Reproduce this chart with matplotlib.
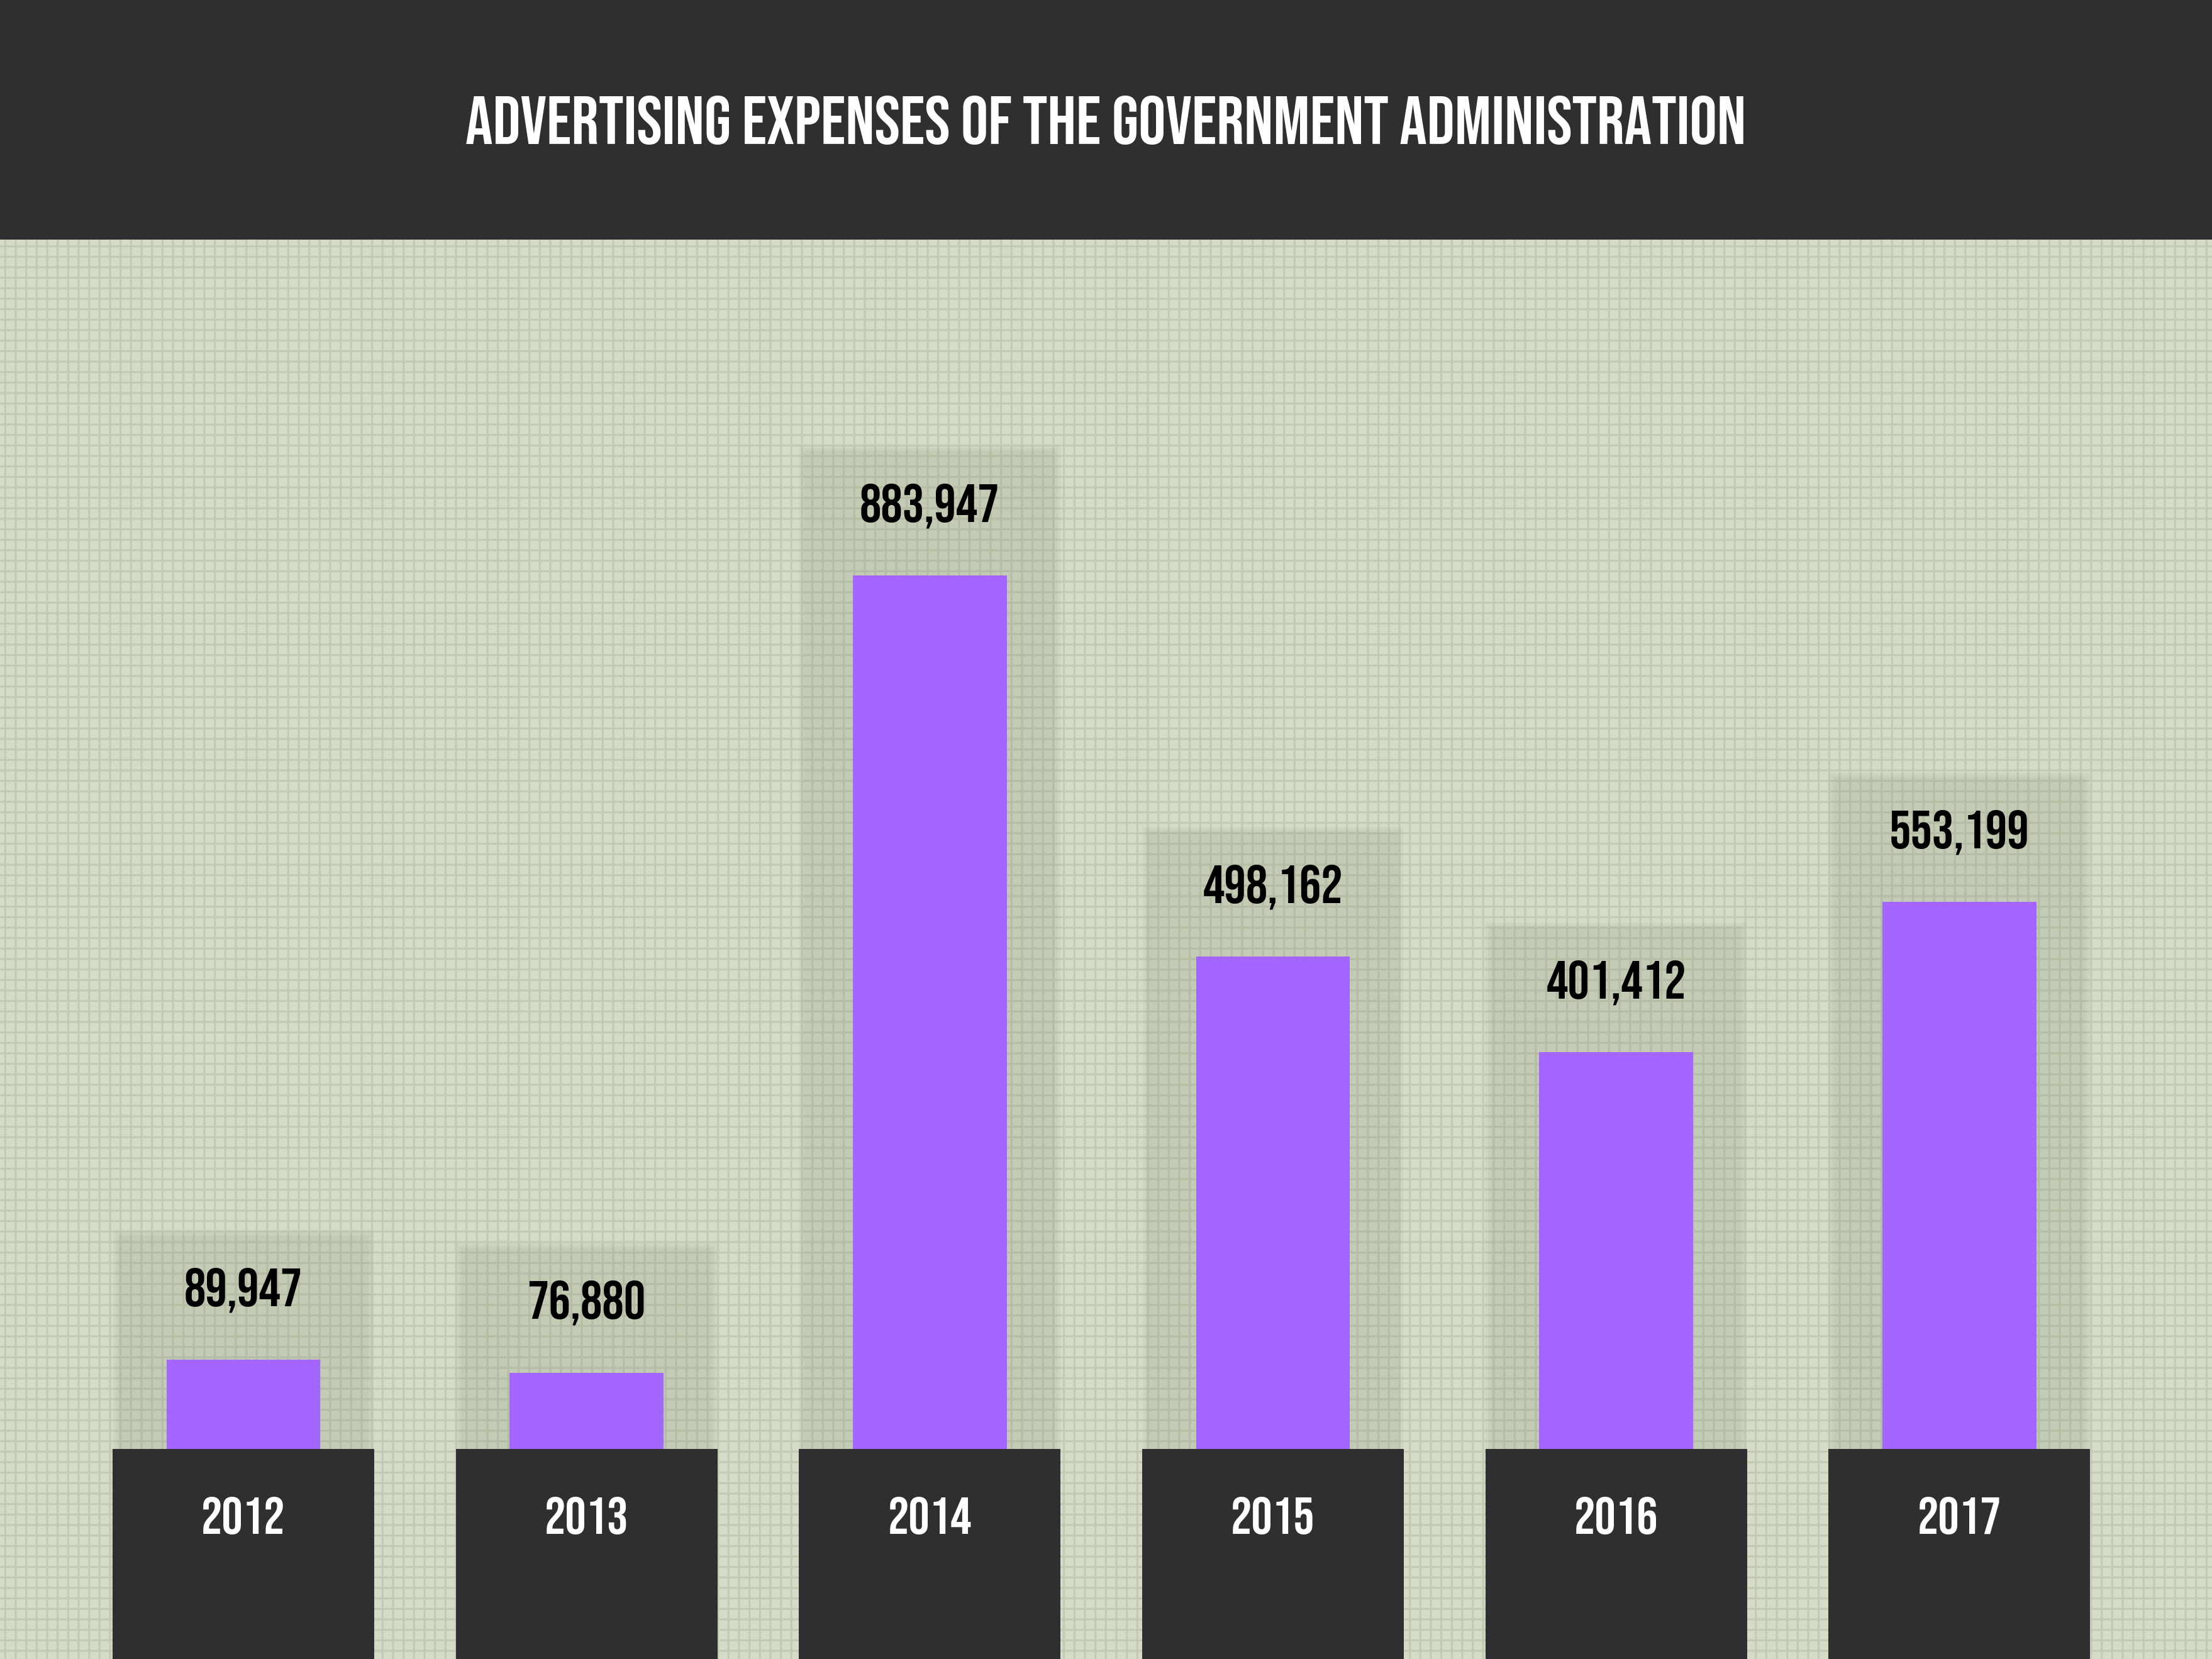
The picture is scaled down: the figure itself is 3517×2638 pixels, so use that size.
"""
Advertising expenses of the government administration, 2012-2017.
Bar chart on a textured sage background with a dark header band.
"""
import numpy as np
import matplotlib
matplotlib.use("Agg")
import matplotlib.pyplot as plt
from matplotlib import font_manager
from matplotlib.patches import Rectangle

# --- data -------------------------------------------------------------
years = ["2012", "2013", "2014", "2015", "2016", "2017"]
expenses = [89947, 76880, 883947, 498162, 401412, 553199]
title = "ADVERTISING EXPENSES OF THE GOVERNMENT ADMINISTRATION"

# --- style ------------------------------------------------------------
W_PX, H_PX, DPI = 3517, 2638, 100
HEADER_FRAC = 381 / H_PX
Y_MIN, Y_MAX = -212900, 1223800      # value scale of the plotting area
SHADOW_PAD = 131000

DARK = "#2f2f2f"
PURPLE = "#a566ff"
SAGE = "#d4dbc6"
TEXTURE = "#c3cab3"


def pick_font():
    fonts = font_manager.fontManager.ttflist
    names = {f.name for f in fonts}
    for cand in ["Bebas Neue", "Oswald", "Roboto Condensed",
                 "Liberation Sans Narrow"]:
        if cand in names:
            return cand, "normal"
    for cand in ["DejaVu Sans", "Roboto", "Noto Sans"]:
        if any(f.name == cand and f.stretch == "condensed" for f in fonts):
            return cand, "condensed"
    return "DejaVu Sans", "normal"


def main():
    family, stretch = pick_font()
    plt.rcParams.update({"font.family": [family, "DejaVu Sans"],
                         "hatch.linewidth": 2.2})
    txt = dict(fontweight="bold", fontstretch=stretch)

    fig = plt.figure(figsize=(W_PX / DPI, H_PX / DPI), dpi=DPI)
    fig.patch.set_facecolor(DARK)

    fig.text(0.5, 1 - 191 / H_PX, title, color="white", fontsize=78,
             ha="center", va="center", **txt)

    ax = fig.add_axes([0, 0, 1, 1 - HEADER_FRAC])
    ax.set_facecolor(SAGE)
    ax.add_patch(Rectangle((0, 0), 1, 1, transform=ax.transAxes,
                           facecolor=SAGE, edgecolor=TEXTURE, hatch="+",
                           lw=0, zorder=0))

    x = np.arange(len(years))
    vals = np.array(expenses)

    # soft shadow panels behind each bar
    for w, a in [(0.76, 0.045), (0.745, 0.04), (0.73, 0.035)]:
        ax.bar(x, vals + SHADOW_PAD * (w / 0.76), width=w, bottom=0,
               color="#4a5a3a", alpha=a, lw=0, zorder=1)

    ax.bar(x, vals, width=0.448, color=PURPLE, lw=0, zorder=2)
    ax.bar(x, -Y_MIN, bottom=Y_MIN, width=0.762, color=DARK, lw=0, zorder=3)

    for xi, v, yr in zip(x, vals, years):
        ax.annotate(f"{v:,}", (xi, v), xytext=(0, 80),
                    textcoords="offset points", ha="center", va="center",
                    fontsize=62, color="black", zorder=4, **txt)
        ax.annotate(yr, (xi, 0), xytext=(0, -77),
                    textcoords="offset points", ha="center", va="center",
                    fontsize=60, color="white", zorder=4, **txt)

    ax.set_xlim(-0.709, 5.736)
    ax.set_ylim(Y_MIN, Y_MAX)
    ax.axis("off")

    fig.savefig("out.png", dpi=DPI, facecolor=fig.get_facecolor())
    plt.close(fig)


if __name__ == "__main__":
    main()
